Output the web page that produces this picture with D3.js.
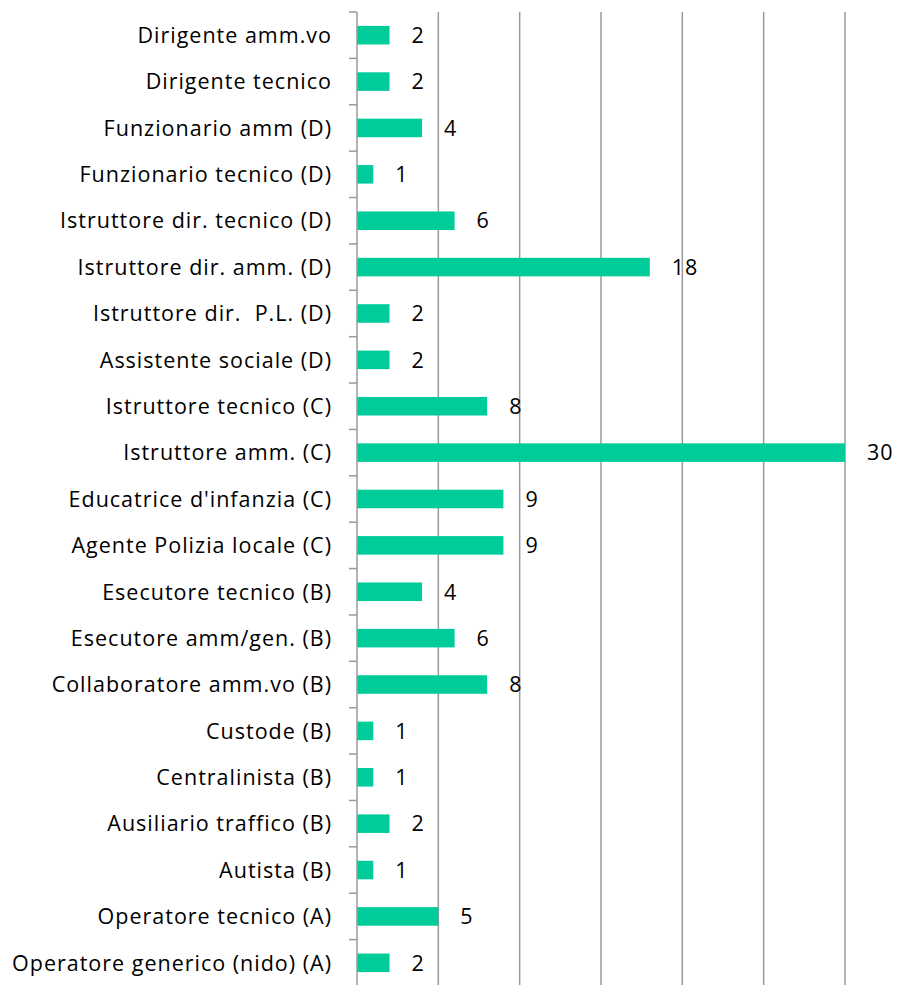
<!DOCTYPE html>
<html>
<head>
<meta charset="utf-8">
<script src="https://cdn.jsdelivr.net/npm/d3@7"></script>
<style>
  body { margin: 0; background: #fff; }
  text { font-family: "Open Sans", sans-serif; fill: #000; white-space: pre; font-variant-ligatures: none; }
</style>
</head>
<body>
<div id="chart"></div>
<script>
// categories, top to bottom
const categories = [
  "Dirigente amm.vo",
  "Dirigente tecnico",
  "Funzionario amm (D)",
  "Funzionario tecnico (D)",
  "Istruttore dir. tecnico (D)",
  "Istruttore dir. amm. (D)",
  "Istruttore dir.  P.L. (D)",
  "Assistente sociale (D)",
  "Istruttore tecnico (C)",
  "Istruttore amm. (C)",
  "Educatrice d'infanzia (C)",
  "Agente Polizia locale (C)",
  "Esecutore tecnico (B)",
  "Esecutore amm/gen. (B)",
  "Collaboratore amm.vo (B)",
  "Custode (B)",
  "Centralinista (B)",
  "Ausiliario traffico (B)",
  "Autista (B)",
  "Operatore tecnico (A)",
  "Operatore generico (nido) (A)"
];
const values = [2, 2, 4, 1, 6, 18, 2, 2, 8, 30, 9, 9, 4, 6, 8, 1, 1, 2, 1, 5, 2];
const gridValues = [5, 10, 15, 20, 25, 30];

const width = 919, height = 985;
const plot = { left: 357, right: 845, top: 12, bottom: 986 };
const fontSize = 21.5;

const svg = d3.select('#chart')
  .append('svg')
  .attr('width', width)
  .attr('height', height);

const x = d3.scaleLinear().domain([0, 30]).range([plot.left, plot.right]);
const y = d3.scaleBand()
  .domain(categories)
  .range([plot.top, plot.bottom])
  .paddingInner(0.6)
  .paddingOuter(0.3);

// vertical gridlines
svg.append('g')
  .selectAll('line')
  .data(gridValues)
  .enter()
  .append('line')
  .attr('x1', d => x(d)).attr('x2', d => x(d))
  .attr('y1', plot.top).attr('y2', plot.bottom)
  .attr('stroke', '#9a9a9a')
  .attr('stroke-width', 1.5);

// bars
svg.append('g')
  .selectAll('rect')
  .data(values)
  .enter()
  .append('rect')
  .attr('x', x(0))
  .attr('y', (d, i) => y(categories[i]))
  .attr('width', d => x(d) - x(0))
  .attr('height', y.bandwidth())
  .attr('fill', '#00cc99');

// category axis: line + ticks at band boundaries
const step = y.step();
const axis = svg.append('g');
axis.append('line')
  .attr('x1', x(0)).attr('x2', x(0))
  .attr('y1', plot.top).attr('y2', plot.bottom)
  .attr('stroke', '#9a9a9a')
  .attr('stroke-width', 1.5);
axis.selectAll('.tick')
  .data(d3.range(categories.length + 1))
  .enter()
  .append('line')
  .attr('class', 'tick')
  .attr('x1', x(0) - 8).attr('x2', x(0))
  .attr('y1', i => plot.top + i * step)
  .attr('y2', i => plot.top + i * step)
  .attr('stroke', '#9a9a9a')
  .attr('stroke-width', 1.5);

// category labels
const labels = svg.append('g')
  .selectAll('text')
  .data(categories)
  .enter()
  .append('text')
  .attr('x', 332)
  .attr('y', d => y(d) + y.bandwidth() / 2)
  .attr('dy', '0.36em')
  .attr('text-anchor', 'end')
  .style('font-size', fontSize + 'px')
  .text(d => d);

// widen letter spacing a little so the longest label spans ~319px like the original
const longestNode = labels.nodes().reduce((a, b) =>
  b.getComputedTextLength() > a.getComputedTextLength() ? b : a);
const extra = (319 - longestNode.getComputedTextLength()) / (longestNode.textContent.length - 1);
const spacing = Math.max(0, Math.min(1.2, extra));
labels.style('letter-spacing', spacing + 'px');

// value labels
svg.append('g')
  .selectAll('text')
  .data(values)
  .enter()
  .append('text')
  .attr('x', d => x(d) + 22)
  .attr('y', (d, i) => y(categories[i]) + y.bandwidth() / 2)
  .attr('dy', '0.36em')
  .style('font-size', fontSize + 'px')
  .style('letter-spacing', spacing + 'px')
  .text(d => d);
</script>
</body>
</html>
